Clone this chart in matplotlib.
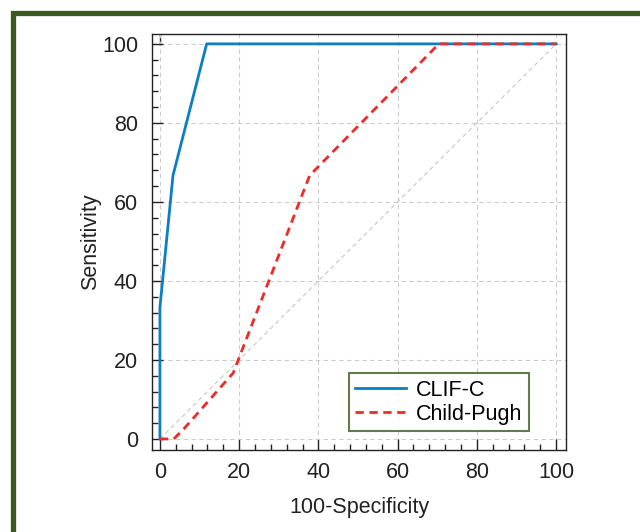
import matplotlib
matplotlib.use("Agg")
import matplotlib.pyplot as plt
from matplotlib.patches import Rectangle
from matplotlib.ticker import MultipleLocator

plt.rcParams['font.family'] = ['Liberation Sans', 'DejaVu Sans']

# ROC 데이터
clif_x = [0, 0, 3.3, 11.8, 100]
clif_y = [0, 33.3, 66.7, 100, 100]
child_x = [0, 3.5, 6, 18.5, 37.8, 70.4, 100]
child_y = [0, 0, 2.5, 16.7, 66.7, 100, 100]
ticks = [0, 20, 40, 60, 80, 100]

fig = plt.figure(figsize=(6.4, 5.32), dpi=100)
# 초록색 테두리
fig.patches.append(Rectangle((13 / 640, -0.05), 1.0, (532 - 13) / 532 + 0.05,
                             transform=fig.transFigure, fill=False,
                             edgecolor='#3b5a1e', linewidth=3.8, clip_on=False))

ax = fig.add_axes([152 / 640, 82 / 532, 414 / 640, 416 / 532])
ax.plot([0, 100], [0, 100], color='#c8c8c8', lw=0.8, ls=(0, (4, 3)), zorder=1)
ax.plot(clif_x, clif_y, color='#0a7fc6', lw=2.0, label='CLIF-C', zorder=3)
ax.plot(child_x, child_y, color='#ee2a2a', lw=2.0, ls=(0, (3, 2)), label='Child-Pugh', zorder=4)

ax.set_xlim(-2, 102.5)
ax.set_ylim(-2.8, 102.5)
ax.set_xticks(ticks)
ax.set_yticks(ticks)
ax.xaxis.set_minor_locator(MultipleLocator(4))
ax.yaxis.set_minor_locator(MultipleLocator(4))
ax.tick_params(which='major', direction='in', length=8, width=1.0, labelsize=15.5,
               colors='#222222')
ax.tick_params(axis='y', which='major', pad=10)
ax.tick_params(axis='x', which='major', pad=9)
ax.tick_params(which='minor', direction='in', length=4, width=1.0, colors='#222222')
ax.grid(True, which='major', color='#cccccc', ls=(0, (4, 3)), lw=0.8)
for s in ax.spines.values():
    s.set_color('#222222')
    s.set_linewidth(1.0)

# 위쪽 0 위치의 눈금 하나
top = ax.secondary_xaxis('top')
top.set_xticks([0])
top.tick_params(direction='in', length=8, width=1.0, labeltop=False, colors='#222222')
top.spines['top'].set_visible(False)

ax.set_xlabel('100-Specificity', fontsize=15.5, labelpad=10, color='#222222')
ax.set_ylabel('Sensitivity', fontsize=15.5, labelpad=1, color='#222222')

leg = ax.legend(loc='lower right', bbox_to_anchor=(0.911, 0.045), fontsize=15.5,
                frameon=True, fancybox=False, handlelength=2.35, handletextpad=0.5,
                borderpad=0.3, labelspacing=0.15, borderaxespad=0)
leg.get_frame().set_edgecolor('#3b5a1e')
leg.get_frame().set_linewidth(1.5)

fig.savefig('out.png', dpi=100)
